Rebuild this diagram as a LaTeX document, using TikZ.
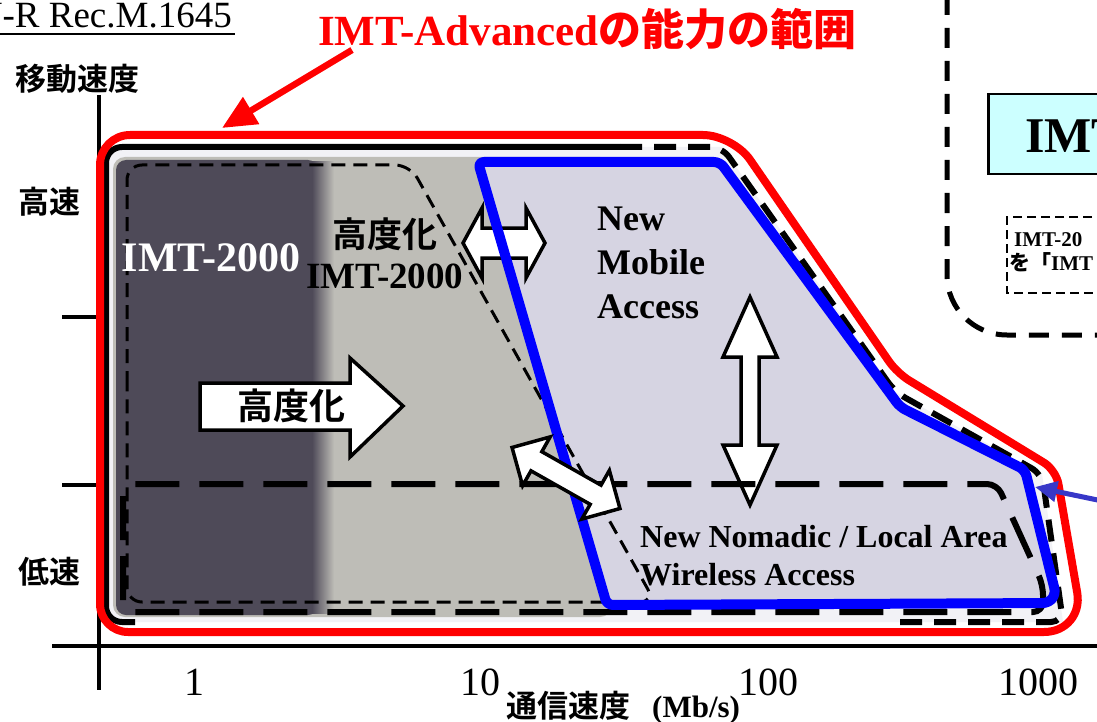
\documentclass[tikz,border=0pt]{standalone}
\usepackage{fontspec}
\setmainfont{Liberation Serif}
\newfontfamily\jpb{Noto Sans CJK JP Bold}
\usetikzlibrary{arrows.meta}
\definecolor{redline}{RGB}{255,0,0}
\definecolor{blueline}{RGB}{0,0,255}
\definecolor{arrowblue}{RGB}{55,55,200}
\definecolor{darkfill}{RGB}{78,74,88}
\definecolor{grayfill}{RGB}{190,189,183}
\definecolor{lavfill}{RGB}{214,212,226}
\definecolor{outerfill}{RGB}{242,242,246}
\definecolor{cyanfill}{RGB}{204,255,255}
\tikzset{
  axisline/.style={line width=4, black},
  redpath/.style={line width=8, redline, line join=round},
  bluepath/.style={line width=10, blueline, line join=round},
  blackframe/.style={line width=6, black},
  blackdash/.style={line width=6, black, dash pattern=on 22 off 12},
  lowdash/.style={line width=6, black, dash pattern=on 44 off 20},
  thindash/.style={line width=3, black, dash pattern=on 14 off 8},
  arrowbox/.style={draw=black, fill=white, line width=3.5, line join=miter},
  lbl/.style={inner sep=0},
  mobfont/.style={font=\fontsize{36}{40}\selectfont\bfseries},
  nomfont/.style={font=\fontsize{32}{36}\selectfont\bfseries},
}
\newcommand\dblarr[6]{%
\begin{scope}[shift={#1}, rotate=#2]
\draw[arrowbox] ({-#3/2},0) -- ({-#3/2+#4},#5) -- ({-#3/2+#4},#6) -- ({#3/2-#4},#6) -- ({#3/2-#4},#5) -- ({#3/2},0) -- ({#3/2-#4},-#5) -- ({#3/2-#4},-#6) -- ({-#3/2+#4},-#6) -- ({-#3/2+#4},-#5) -- cycle;
\end{scope}}
\begin{document}
\begin{tikzpicture}[x=1pt,y=-1pt]
\useasboundingbox (0,0) rectangle (1097,722);
\fill[white] (0,0) rectangle (1097,722);

% header
\node[lbl, anchor=base east] (rec) at (232,28) {\fontsize{37}{40}\selectfont ITU-R Rec.M.1645};
\draw[line width=1.8] (0,34) -- (235,34);
\node[lbl, anchor=base west, text=redline] (title) at (318,46) {\fontsize{43}{48}\selectfont\bfseries IMT-Advanced{\jpb の能力の範囲}};

% right-hand dashed region
\draw[line width=5, dash pattern=on 20 off 13, rounded corners=60] (947,-5) -- (947,335) -- (1105,335);
\node[lbl, draw=black, line width=2.5, fill=cyanfill, anchor=north west, minimum width=130, minimum height=80] (advbox) at (987,93) {};
\node[lbl, anchor=base west] (advtext) at (1025,153) {\fontsize{50}{56}\selectfont\bfseries IMT};
\draw[line width=1.5, dash pattern=on 9 off 5] (1120,217) -- (1007,217) -- (1007,293) -- (1120,293);
\node[lbl, anchor=base west] (note1) at (1014,246) {\fontsize{21}{24}\selectfont\bfseries IMT-20};
\node[lbl, anchor=base west] (note2) at (1009,270) {\fontsize{21}{24}\selectfont\bfseries{\jpb を「}IMT};

% axes
\draw[axisline] (99,95) -- (99,690);
\draw[axisline] (52,646) -- (1097,646);
\draw[axisline] (62,317) -- (99,317);
\draw[axisline] (62,485) -- (99,485);
\node[lbl] (yaxis) at (78,79) {\fontsize{31}{34}\selectfont\jpb 移動速度};
\node[lbl] (fast) at (49,202) {\fontsize{31}{34}\selectfont\jpb 高速};
\node[lbl] (slow) at (49,572) {\fontsize{31}{34}\selectfont\jpb 低速};
\node[lbl, anchor=base] (t1) at (194,695) {\fontsize{40}{44}\selectfont 1};
\node[lbl, anchor=base] (t10) at (480,695) {\fontsize{40}{44}\selectfont 10};
\node[lbl, anchor=base] (t100) at (768,695) {\fontsize{40}{44}\selectfont 100};
\node[lbl, anchor=base] (t1000) at (1038,695) {\fontsize{40}{44}\selectfont 1000};
\node[lbl, anchor=base west] (xaxis) at (506,717) {\fontsize{31}{34}\selectfont{\jpb 通信速度}\hspace{22pt}\bfseries (Mb/s)};

% fills
\fill[outerfill] (106,147) -- (722,147) -- (895,392) -- (1042,474) -- (1063,622) -- (106,622) -- cycle;
\fill[grayfill, rounded corners=12] (113,157) rectangle (612,617);
\fill[darkfill, rounded corners=10] (116,160) rectangle (318,615);
\shade[left color=darkfill, right color=grayfill] (312,162) rectangle (334,613);
\fill[lavfill] (478,162) -- (720,162) -- (900,407) -- (1025,470) -- (1058,603) -- (607,605) -- cycle;

% block arrows lying under the outlines
\draw[arrowbox] (200,383) -- (350,383) -- (350,358) -- (403,406) -- (350,457) -- (350,430) -- (200,430) -- cycle;
\dblarr{(504,243)}{0}{82}{19}{35}{15}
\dblarr{(750,401)}{90}{208}{60}{27}{9}

% dashed outlines
\draw[thindash, rounded corners=15] (127,400) -- (127,165) -- (410,165) -- (655,602) -- (127,602) -- cycle;
\draw[lowdash, rounded corners=10] (123,550) -- (123,484) -- (997,484) -- (1043,585) -- (1043,612) -- (123,612) -- cycle;
\draw[blackframe, rounded corners=16] (620,147) -- (106,147) -- (106,622) -- (135,622);
\draw[blackdash, rounded corners=12] (620,147) -- (722,147) -- (895,392) -- (1042,474) -- (1063,622) -- (900,622);

% blue region
\draw[bluepath, rounded corners=6] (540,162) -- (720,162) -- (900,407) -- (1025,470) [rounded corners=16] -- (1058,603) [rounded corners=6] -- (607,605) -- (478,162) -- cycle;

% red outline
\draw[redpath, rounded corners=30] (100,400) -- (100,135) -- (733,135) [rounded corners=14] -- (897,373) -- (1056,470) [rounded corners=40] -- (1084,632) [rounded corners=28] -- (100,632) -- cycle;

% diagonal block arrow on top
\dblarr{(566,478)}{-29.5}{124}{28}{28}{11}

% labels
\node[lbl, text=white] (imt) at (211,258) {\fontsize{42}{46}\selectfont\bfseries IMT-2000};
\node[lbl] (enh1) at (385,234) {\fontsize{35}{38}\selectfont\jpb 高度化};
\node[lbl] (enh2) at (385,276) {\fontsize{37}{40}\selectfont\bfseries IMT-2000};
\node[lbl] (adv) at (291,406) {\fontsize{36}{38}\selectfont\jpb 高度化};
\node[lbl, mobfont, anchor=base west] (nma1) at (597,230) {New};
\node[lbl, mobfont, anchor=base west] (nma2) at (597,274) {Mobile};
\node[lbl, mobfont, anchor=base west] (nma3) at (597,318) {Access};
\node[lbl, nomfont, anchor=base west] (nom1) at (640,547) {New Nomadic / Local Area};
\node[lbl, nomfont, anchor=base west] (nom2) at (640,585) {Wireless Access};

% pointer arrows
\coordinate (redstart) at (352,50);
\coordinate (redend) at (222,128);
\draw[redline, line width=6.5, -{Triangle[length=34pt,width=30pt]}] (redstart) -- (redend);
\coordinate (bluestart) at (1112,503);
\coordinate (blueend) at (1035,487);
\draw[arrowblue, line width=5, -{Triangle[length=22pt,width=20pt]}] (bluestart) -- (blueend);
\end{tikzpicture}
\end{document}
